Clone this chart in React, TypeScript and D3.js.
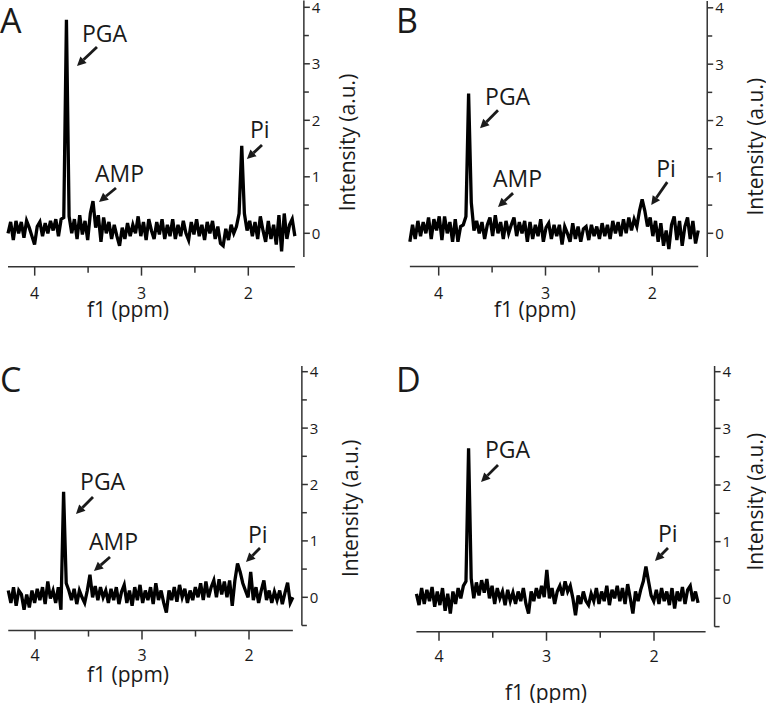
import React from "react";
import * as d3 from "d3";

// ---------- DATA ----------
const panelLetters = ["A", "B", "C", "D"];
const xMajorTicks = [4, 3, 2];
const xMinorTicks = [3.5, 2.5];
const yMajorTicks = [0, 1, 2, 3, 4];
const yMinorTicks = [-0.5, 0.5, 1.5, 2.5, 3.5];
const xAxisTitle = "f1 (ppm)";
const yAxisTitle = "Intensity (a.u.)";

// ppm range covered by each spectrum (left -> right)
const specRangeA = [4.25, 1.564];
const specRangeB = [4.27, 1.57];
const specRangeC = [4.25, 1.59];
const specRangeD = [4.21, 1.59];

const specA = [
  0.0, 0.2, -0.12, 0.22, 0.0, 0.2, -0.08, 0.22, 0.1, -0.05,
  -0.2, 0.12, 0.2, -0.05, 0.18, 0.0, 0.22, 0.05, 0.25, -0.05,
  0.25, 0.28, 3.78, 0.3, 0.0, 0.25, -0.1, 0.32, -0.02, 0.22,
  -0.12, 0.35, 0.57, 0.1, 0.32, -0.15, 0.28, 0.0, 0.2, -0.1,
  0.15, -0.05, -0.22, 0.1, -0.1, 0.18, -0.05, 0.15, 0.0, 0.3,
  -0.05, 0.2, -0.12, 0.25, 0.05, -0.1, 0.2, -0.02, 0.25, -0.1,
  0.15, -0.05, 0.25, -0.1, 0.15, -0.05, 0.22, 0.0, -0.12, 0.2,
  -0.02, 0.25, -0.05, 0.15, -0.12, 0.2, 0.0, 0.22, -0.1, 0.12,
  -0.18, -0.22, 0.08, -0.12, 0.15, 0.0, 0.12, 0.35, 1.55, 0.35,
  0.05, 0.22, -0.05, 0.2, -0.1, 0.3, 0.05, -0.15, 0.22, -0.1,
  0.15, -0.2, 0.32, -0.32, 0.35, -0.1, 0.15, 0.25, -0.05,
];

const specB = [
  -0.15, 0.15, -0.1, 0.22, -0.05, 0.2, 0.0, 0.28, -0.1, 0.25,
  0.05, 0.3, -0.12, 0.3, 0.0, 0.2, -0.15, 0.25, -0.15, 0.12,
  0.15, 0.3, 2.48, 0.55, 0.05, 0.22, 0.0, 0.2, -0.1, 0.15,
  0.28, -0.05, 0.32, 0.0, 0.2, -0.1, 0.22, 0.0, 0.15, 0.28,
  -0.05, 0.2, 0.0, 0.22, -0.15, 0.2, -0.1, 0.15, -0.05, 0.25,
  -0.15, 0.1, 0.18, -0.1, 0.15, -0.05, 0.15, -0.2, 0.12, 0.0,
  -0.15, 0.18, -0.1, 0.12, -0.15, 0.08, 0.12, -0.12, 0.15, -0.05,
  0.12, -0.1, 0.18, -0.05, 0.15, -0.1, 0.22, 0.0, 0.2, -0.05,
  0.25, 0.0, 0.28, 0.05, 0.25, 0.12, 0.4, 0.6, 0.4, 0.12,
  0.28, -0.05, 0.22, -0.15, 0.18, -0.22, 0.05, -0.28, 0.15, 0.3,
  -0.12, 0.22, -0.22, 0.12, 0.28, -0.1, 0.22, -0.18, 0.05,
];

const specC = [
  0.12, -0.1, 0.18, -0.15, 0.12, 0.05, -0.22, 0.05, -0.18, 0.12,
  -0.1, 0.15, -0.05, 0.18, -0.12, 0.28, -0.02, 0.12, -0.1, 0.18,
  -0.22, 1.87, 0.25, 0.12, -0.05, 0.15, -0.12, 0.12, 0.0, -0.1,
  0.12, 0.4, 0.0, 0.2, -0.05, 0.18, 0.0, 0.12, -0.1, 0.15,
  -0.05, 0.18, -0.12, 0.1, 0.22, -0.1, 0.12, -0.15, 0.18, -0.05,
  0.22, -0.1, 0.12, -0.05, 0.18, -0.12, 0.25, -0.05, 0.12, -0.1,
  -0.27, 0.12, -0.05, 0.18, -0.08, 0.22, 0.0, 0.15, -0.1, 0.12,
  -0.05, 0.18, 0.0, 0.25, -0.05, 0.28, 0.0, 0.18, 0.3, 0.0,
  0.32, 0.05, 0.28, 0.0, 0.3, -0.15, 0.3, 0.6, 0.45, 0.25,
  0.12, 0.0, 0.45, -0.05, 0.18, -0.1, 0.12, 0.3, -0.05, 0.12,
  -0.1, 0.1, -0.05, 0.12, -0.12, 0.08, 0.26, -0.1, 0.0,
];

const specD = [
  0.08, -0.12, 0.18, -0.1, 0.15, -0.05, 0.2, -0.15, 0.12, -0.12,
  0.18, -0.22, 0.08, -0.27, 0.12, -0.1, 0.18, 0.0, 0.22, 0.3,
  2.65, 0.35, 0.0, 0.28, 0.05, 0.32, 0.1, 0.34, 0.0, 0.22,
  -0.1, 0.18, 0.0, 0.12, -0.12, 0.15, -0.05, 0.1, -0.1, 0.12,
  -0.05, 0.18, -0.1, -0.27, 0.12, -0.05, 0.18, 0.0, 0.22, 0.02,
  0.5, 0.0, 0.18, -0.1, 0.12, 0.22, 0.05, 0.3, 0.12, 0.22,
  0.0, -0.3, 0.05, -0.1, 0.12, -0.05, -0.12, 0.08, -0.05, 0.18,
  -0.1, 0.12, -0.05, 0.22, -0.12, 0.15, 0.0, 0.22, -0.05, 0.18,
  -0.1, 0.25, 0.0, -0.27, 0.12, -0.05, 0.15, 0.3, 0.56, 0.3,
  0.05, -0.05, 0.15, -0.1, 0.18, -0.05, 0.12, -0.12, 0.18, -0.18,
  0.12, -0.05, 0.2, -0.1, 0.15, 0.22, -0.05, 0.12, -0.08,
];

// annotations: arrow head, arrow tail and label anchor in data units (ppm, intensity)
const annLabelsA = ["PGA", "AMP", "Pi"];
const annHeadA = [[3.604, 2.961], [3.398, 0.554], [2.013, 1.315]];
const annTailA = [[3.417, 3.297], [3.239, 0.802], [1.872, 1.563]];
const annTextA = [[3.557, 3.391], [3.435, 0.913], [1.984, 1.681]];

const annLabelsB = ["PGA", "AMP", "Pi"];
const annHeadB = [[3.613, 1.862], [3.445, 0.465], [2.01, 0.5]];
const annTailB = [[3.445, 2.181], [3.304, 0.713], [1.86, 0.908]];
const annTextB = [[3.566, 2.271], [3.492, 0.825], [1.963, 1.002]];

const annLabelsC = ["PGA", "AMP", "Pi"];
const annHeadC = [[3.617, 1.477], [3.449, 0.466], [2.028, 0.626]];
const annTailC = [[3.458, 1.778], [3.299, 0.715], [1.897, 0.874]];
const annTextC = [[3.579, 1.902], [3.495, 0.839], [2.009, 0.968]];

const annLabelsD = ["PGA", "Pi"];
const annHeadD = [[3.609, 2.053], [1.991, 0.658]];
const annTailD = [[3.451, 2.353], [1.87, 0.888]];
const annTextD = [[3.572, 2.471], [1.963, 0.999]];

// ---------- LAYOUT ----------
const W = 766;
const H = 703;
const FONT = "'Open Sans', 'Noto Sans', sans-serif";
const INK = "#1a1a1a";
const AXIS = "#333";

const layouts = [
  { x4: 34.7, x2: 248.3, y0: 233.3, y4: 7.3, axisPpm: [4.25, 1.564], yTop: 4.12, yBottom: -0.42,
    letter: [0, 33], xTickBase: 299, xTitle: [128, 316.7], yTitle: [355, 142.5] },
  { x4: 438.7, x2: 652.3, y0: 233.3, y4: 7.8, axisPpm: [4.27, 1.57], yTop: 4.12, yBottom: -0.42,
    letter: [396, 33], xTickBase: 299, xTitle: [535, 316.7], yTitle: [763, 146.7] },
  { x4: 35, x2: 249, y0: 597.3, y4: 371.7, axisPpm: [4.25, 1.59], yTop: 4.1, yBottom: -0.5,
    letter: [0, 391.7], xTickBase: 660.7, xTitle: [128, 681.7], yTitle: [358, 508.3] },
  { x4: 439, x2: 654, y0: 598.3, y4: 371.7, axisPpm: [4.21, 1.52], yTop: 4.1, yBottom: -0.5,
    letter: [396, 391.7], xTickBase: 661.7, xTitle: [546, 700], yTitle: [763, 501.7] },
];

const panelData = [
  { spec: specA, range: specRangeA, labels: annLabelsA, head: annHeadA, tail: annTailA, text: annTextA },
  { spec: specB, range: specRangeB, labels: annLabelsB, head: annHeadB, tail: annTailB, text: annTextB },
  { spec: specC, range: specRangeC, labels: annLabelsC, head: annHeadC, tail: annTailC, text: annTextC },
  { spec: specD, range: specRangeD, labels: annLabelsD, head: annHeadD, tail: annTailD, text: annTextD },
];

function Arrow({ x1, y1, x2, y2 }: { x1: number; y1: number; x2: number; y2: number }) {
  const ang = Math.atan2(y2 - y1, x2 - x1);
  const headLen = 9;
  const headW = 4.5;
  const bx = x2 - headLen * Math.cos(ang);
  const by = y2 - headLen * Math.sin(ang);
  const px = -Math.sin(ang) * headW;
  const py = Math.cos(ang) * headW;
  return (
    <g>
      <line x1={x1} y1={y1} x2={bx} y2={by} stroke={INK} strokeWidth={2.8} />
      <polygon points={`${x2},${y2} ${bx + px},${by + py} ${bx - px},${by - py}`} fill={INK} />
    </g>
  );
}

function Panel({ idx }: { idx: number }) {
  const L = layouts[idx];
  const D = panelData[idx];
  const x = d3.scaleLinear().domain([4, 2]).range([L.x4, L.x2]);
  const y = d3.scaleLinear().domain([0, 4]).range([L.y0, L.y4]);
  const n = D.spec.length;
  const ppm = d3.scaleLinear().domain([0, n - 1]).range(D.range);
  const line = d3
    .line<number>()
    .x((_, i) => x(ppm(i)))
    .y((v) => y(v));
  const xAxisY = L.y0 + (L.y0 - L.y4) / 4 * 0.59;
  const yAxisX = x(L.axisPpm[1]) + 9;
  const xl = x(L.axisPpm[0]);
  const xr = x(L.axisPpm[1]);
  return (
    <g>
      <text x={L.letter[0]} y={L.letter[1]} fontSize={34} fontFamily={FONT} fill={INK}>
        {panelLetters[idx]}
      </text>
      {/* x axis */}
      <line x1={xl} x2={xr} y1={xAxisY} y2={xAxisY} stroke={AXIS} strokeWidth={1.5} />
      {xMajorTicks.map((t) => (
        <g key={"xM" + t}>
          <line x1={x(t)} x2={x(t)} y1={xAxisY} y2={xAxisY + 9} stroke={AXIS} strokeWidth={1.5} />
          <text x={x(t)} y={L.xTickBase} textAnchor="middle" fontSize={16} fontFamily={FONT} fill={INK}>
            {t}
          </text>
        </g>
      ))}
      {xMinorTicks.map((t) => (
        <line key={"xm" + t} x1={x(t)} x2={x(t)} y1={xAxisY} y2={xAxisY + 6} stroke={AXIS} strokeWidth={1.5} />
      ))}
      <text x={L.xTitle[0]} y={L.xTitle[1]} textAnchor="middle" fontSize={21} fontFamily={FONT} fill={INK}>
        {xAxisTitle}
      </text>
      {/* y axis (right) */}
      <line x1={yAxisX} x2={yAxisX} y1={y(L.yTop)} y2={y(L.yBottom)} stroke={AXIS} strokeWidth={1.5} />
      {yMajorTicks.map((t) => (
        <g key={"yM" + t}>
          <line x1={yAxisX} x2={yAxisX + 6} y1={y(t)} y2={y(t)} stroke={AXIS} strokeWidth={1.5} />
          <text x={yAxisX + 8} y={y(t) + 5.5} fontSize={15} fontFamily={FONT} fill={INK}>
            {t}
          </text>
        </g>
      ))}
      {yMinorTicks
        .filter((t) => t >= L.yBottom - 0.001)
        .map((t) => (
          <line key={"ym" + t} x1={yAxisX} x2={yAxisX + 5} y1={y(t)} y2={y(t)} stroke={AXIS} strokeWidth={1.5} />
        ))}
      <text
        transform={`translate(${L.yTitle[0]},${L.yTitle[1]}) rotate(-90)`}
        textAnchor="middle"
        fontSize={21}
        fontFamily={FONT}
        fill={INK}
      >
        {yAxisTitle}
      </text>
      {/* spectrum */}
      <path d={line(D.spec) || ""} fill="none" stroke="#000" strokeWidth={3.3} strokeLinejoin="miter" />
      {/* annotations */}
      {D.labels.map((lab, i) => (
        <g key={lab}>
          <text x={x(D.text[i][0])} y={y(D.text[i][1])} fontSize={23} fontFamily={FONT} fill={INK}>
            {lab}
          </text>
          <Arrow x1={x(D.tail[i][0])} y1={y(D.tail[i][1])} x2={x(D.head[i][0])} y2={y(D.head[i][1])} />
        </g>
      ))}
    </g>
  );
}

export default function App() {
  return (
    <svg
      width={W}
      height={H}
      viewBox={`0 0 ${W} ${H}`}
      style={{ position: "absolute", left: 0, top: 0, background: "#fff" }}
    >
      <rect width={W} height={H} fill="#fff" />
      {panelLetters.map((_, i) => (
        <Panel key={i} idx={i} />
      ))}
    </svg>
  );
}
